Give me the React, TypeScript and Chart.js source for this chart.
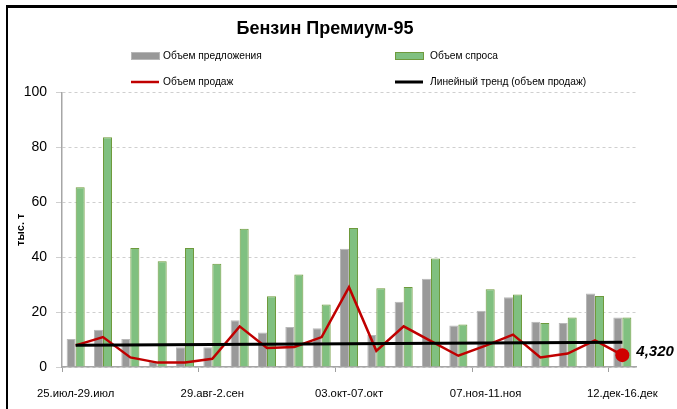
import React, { useEffect, useRef } from "react";
import { Chart, registerables } from "chart.js";

Chart.register(...registerables);

const categories = [
  "25.июл-29.июл", "01.авг-05.авг", "08.авг-12.авг", "15.авг-19.авг", "22.авг-26.авг",
  "29.авг-2.сен", "05.сен-09.сен", "12.сен-16.сен", "19.сен-23.сен", "26.сен-30.сен",
  "03.окт-07.окт", "10.окт-14.окт", "17.окт-21.окт", "24.окт-28.окт", "31.окт-04.ноя",
  "07.ноя-11.ноя", "14.ноя-18.ноя", "21.ноя-25.ноя", "28.ноя-02.дек", "05.дек-09.дек",
  "12.дек-16.дек",
];
const supply = [10.2, 13.6, 10.2, 2.0, 7.2, 7.2, 17.0, 12.6, 14.6, 14.1, 43.1, 11.7, 23.8, 32.2, 15.1, 20.5, 25.4, 16.5, 16.0, 26.8, 18.0];
const demand = [65.5, 83.7, 43.4, 38.5, 43.4, 37.6, 50.4, 25.8, 33.7, 22.8, 50.7, 28.7, 29.2, 39.5, 15.5, 28.3, 26.4, 16.0, 18.0, 25.9, 18.0];
const sales = [7.9, 10.9, 3.5, 1.6, 1.6, 3.0, 14.8, 6.9, 7.3, 10.9, 29.1, 5.9, 14.8, 9.4, 4.1, 7.8, 11.8, 3.5, 4.9, 9.7, 4.32];
const trend = [7.9, null, null, null, null, null, null, null, null, null, null, null, null, null, null, null, null, null, null, null, 9.0];
const yTicks = [0, 20, 40, 60, 80, 100];

const seriesNames = ["Объем предложения", "Объем спроса", "Объем продаж", "Линейный тренд (объем продаж)"];
const titleText = "Бензин Премиум-95";
const yTitle = "тыс. т";

const FONT = "'Liberation Sans', Arial, sans-serif";

const GRAY = "#999999";
const GRAY_BORDER = "#b8b8b8";
const GREEN = "#80c080";
const GREEN_BORDER = "#6e9a3c";
const RED = "#c00000";

const legendPlugin = {
  id: "customLegend",
  afterDraw(chart: any) {
    const ctx = chart.ctx;
    ctx.save();
    ctx.font = `10.2px ${FONT}`;
    ctx.textBaseline = "middle";
    const col1 = 131;
    const col2 = 395;
    const row1 = 56;
    const row2 = 82;
    ctx.fillStyle = GRAY;
    ctx.fillRect(col1, row1 - 3, 28, 6);
    ctx.strokeStyle = GRAY_BORDER;
    ctx.lineWidth = 1;
    ctx.strokeRect(col1 + 0.5, row1 - 3.5, 28, 7);
    ctx.fillStyle = GREEN;
    ctx.fillRect(col2, row1 - 3, 28, 6);
    ctx.strokeStyle = GREEN_BORDER;
    ctx.strokeRect(col2 + 0.5, row1 - 3.5, 28, 7);
    ctx.strokeStyle = RED;
    ctx.lineWidth = 2.5;
    ctx.beginPath();
    ctx.moveTo(col1, row2);
    ctx.lineTo(col1 + 28, row2);
    ctx.stroke();
    ctx.strokeStyle = "#000";
    ctx.lineWidth = 3;
    ctx.beginPath();
    ctx.moveTo(col2, row2);
    ctx.lineTo(col2 + 28, row2);
    ctx.stroke();
    ctx.fillStyle = "#000";
    ctx.fillText(seriesNames[0], col1 + 32, row1);
    ctx.fillText(seriesNames[1], col2 + 35, row1);
    ctx.fillText(seriesNames[2], col1 + 32, row2);
    ctx.fillText(seriesNames[3], col2 + 35, row2);
    ctx.restore();
  },
};

const lastLabelPlugin = {
  id: "lastLabel",
  afterDatasetsDraw(chart: any) {
    const meta = chart.getDatasetMeta(2);
    const last = sales.length - 1;
    const el = meta.data[last];
    if (!el) return;
    const ctx = chart.ctx;
    ctx.save();
    ctx.font = `italic bold 15px ${FONT}`;
    ctx.fillStyle = "#000";
    ctx.textBaseline = "middle";
    ctx.textAlign = "left";
    ctx.fillText(sales[last].toFixed(3).replace(".", ","), el.x + 14, el.y - 3);
    ctx.restore();
  },
};

export default function App() {
  const ref = useRef<HTMLCanvasElement | null>(null);
  useEffect(() => {
    if (!ref.current) return;
    const last = sales.length - 1;
    const chart = new Chart(ref.current, {
      type: "bar",
      data: {
        labels: categories,
        datasets: [
          {
            type: "bar",
            label: seriesNames[0],
            data: supply,
            backgroundColor: GRAY,
            borderColor: GRAY_BORDER,
            borderWidth: 1,
            categoryPercentage: 0.66,
            barPercentage: 1.0,
            order: 3,
          } as any,
          {
            type: "bar",
            label: seriesNames[1],
            data: demand,
            backgroundColor: GREEN,
            borderColor: GREEN_BORDER,
            borderWidth: 1,
            categoryPercentage: 0.66,
            barPercentage: 1.0,
            order: 3,
          },
          {
            type: "line",
            label: seriesNames[2],
            data: sales,
            borderColor: RED,
            backgroundColor: "#d00000",
            borderWidth: 2.5,
            tension: 0,
            pointRadius: (c: any) => (c.dataIndex === last ? 7 : 0),
            pointBackgroundColor: "#d00000",
            pointBorderWidth: 0,
            order: 2,
          },
          {
            type: "line",
            label: seriesNames[3],
            data: trend,
            borderColor: "#000",
            borderWidth: 3,
            pointRadius: 0,
            spanGaps: true,
            order: 1,
          },
        ],
      },
      options: {
        animation: false,
        responsive: false,
        devicePixelRatio: 1,
        layout: { padding: { left: 14, right: 41, top: 0, bottom: 0 } },
        plugins: {
          legend: { display: false },
          tooltip: { enabled: false },
          title: {
            display: true,
            text: titleText,
            color: "#000",
            font: { family: FONT, size: 18, weight: "bold" },
            padding: { top: 18, bottom: 53 },
          },
        },
        scales: {
          x: {
            offset: true,
            afterFit: (s: any) => { s.height = 42; },
            grid: {
              drawOnChartArea: false,
              drawTicks: true,
              tickLength: 5,
              color: (c: any) => (c.index !== undefined && c.index % 5 === 0 ? "#a0a0a0" : "rgba(0,0,0,0)"),
            },
            border: { color: "#a6a6a6", width: 1.5 },
            ticks: {
              autoSkip: false,
              maxRotation: 0,
              minRotation: 0,
              padding: 15,
              color: "#000",
              font: { family: FONT, size: 11.3 },
              callback: (_v: any, i: number) => (i % 5 === 0 ? categories[i] : ""),
            },
          },
          y: {
            min: 0,
            max: 100,
            afterFit: (s: any) => { s.width = 48; },
            afterBuildTicks: (s: any) => { s.ticks = yTicks.map((v) => ({ value: v })); },
            grid: {
              color: "#cfcfcf",
              drawTicks: true,
              tickLength: 6,
            },
            border: { color: "#a6a6a6", width: 1.5, dash: [3, 3] },
            ticks: {
              padding: 9,
              color: "#000",
              font: { family: FONT, size: 14 },
            },
            title: {
              display: true,
              text: yTitle,
              color: "#000",
              font: { family: FONT, size: 11, weight: "bold" },
              padding: 0,
            },
          },
        },
      },
      plugins: [legendPlugin, lastLabelPlugin],
    });
    return () => chart.destroy();
  }, []);

  return (
    <div style={{ position: "fixed", left: 0, top: 0, width: 677, height: 409, background: "#fff", overflow: "hidden" }}>
      <div
        style={{
          position: "absolute",
          left: 6,
          top: 5,
          width: 700,
          height: 420,
          borderTop: "3px solid #000",
          borderLeft: "2px solid #000",
        }}
      />
      <canvas ref={ref} width={677} height={409} style={{ position: "absolute", left: 0, top: 0, width: 677, height: 409 }} />
    </div>
  );
}
